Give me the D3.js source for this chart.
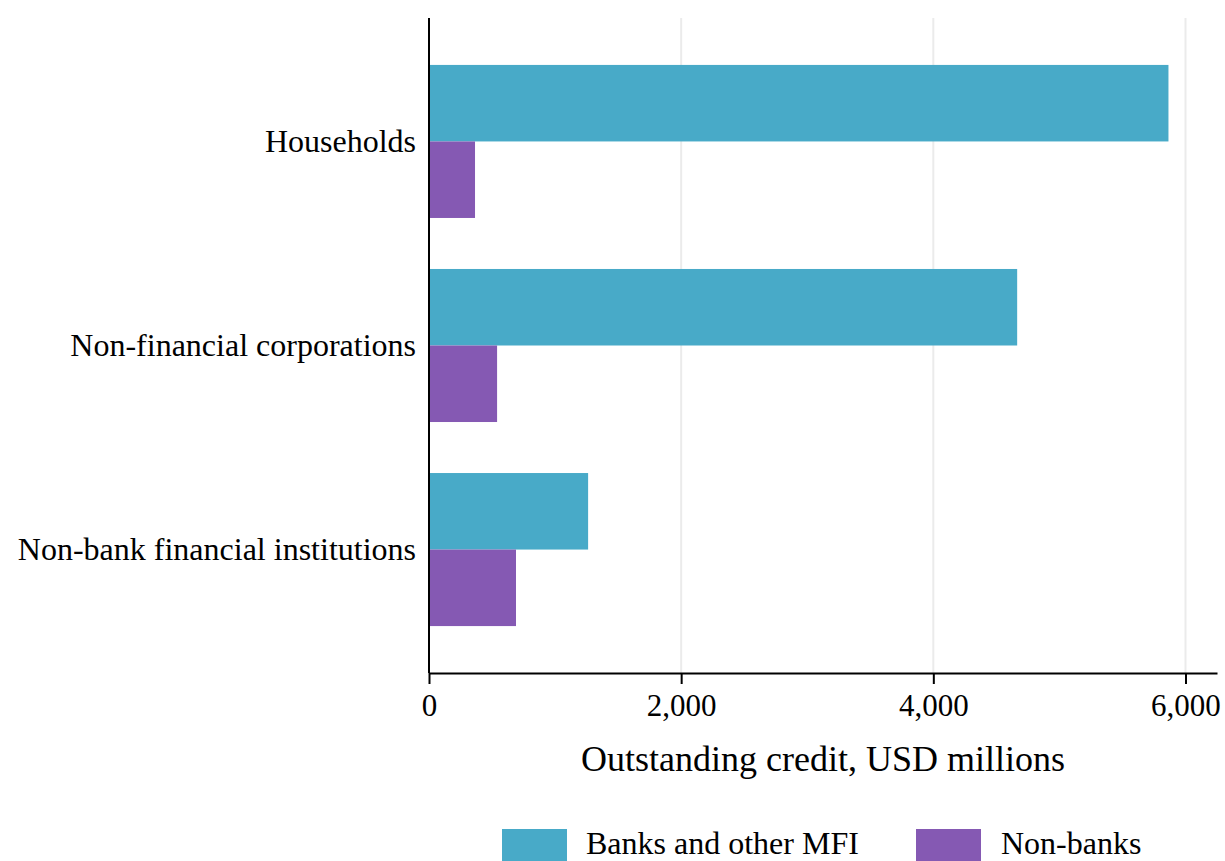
<!DOCTYPE html>
<html>
<head>
<meta charset="utf-8">
<script src="https://cdn.jsdelivr.net/npm/d3@7"></script>
<style>
  html, body { margin: 0; padding: 0; background: #fff; }
  svg { display: block; font-family: "Liberation Serif", "Times New Roman", serif; }
</style>
</head>
<body>
<svg id="chart" width="1225" height="861"></svg>
<script>
// Outstanding credit by borrowing sector, USD millions
const sectors = ["Households", "Non-financial corporations", "Non-bank financial institutions"];
const seriesNames = ["Banks and other MFI", "Non-banks"];
const banksValues = [5865, 4665, 1262];
const nonBanksValues = [365, 540, 690];
const xTicks = [0, 2000, 4000, 6000];
const colors = ["#48aac8", "#8559b3"];

const rows = sectors.map((s, i) => ({ sector: s, values: [banksValues[i], nonBanksValues[i]] }));

const svg = d3.select("#chart");
const margin = { left: 429, right: 8, top: 18, bottom: 188 };
const W = 1225, H = 861;
const x0 = margin.left, x1 = W - margin.right;
const yTop = margin.top, yBottom = H - margin.bottom;

const x = d3.scaleLinear().domain([0, 6250]).range([x0, x1]);
const y = d3.scaleBand().domain(sectors).range([yTop, yBottom]).paddingInner(0.25).paddingOuter(0.23);
const ySub = d3.scaleBand().domain([0, 1]).range([0, y.bandwidth()]);

// vertical gridlines
svg.append("g").selectAll("line")
  .data(xTicks.filter(d => d > 0))
  .join("line")
  .attr("x1", d => x(d)).attr("x2", d => x(d))
  .attr("y1", yTop).attr("y2", yBottom)
  .attr("stroke", "#ebebeb").attr("stroke-width", 2);

// bars
const groups = svg.append("g").selectAll("g")
  .data(rows).join("g")
  .attr("transform", d => `translate(0,${y(d.sector)})`);
groups.selectAll("rect")
  .data(d => d.values.map((v, k) => ({ v, k })))
  .join("rect")
  .attr("x", x(0))
  .attr("y", d => ySub(d.k))
  .attr("width", d => x(d.v) - x(0))
  .attr("height", ySub.bandwidth())
  .attr("fill", d => colors[d.k]);

// x axis
const xAxis = svg.append("g")
  .attr("transform", `translate(0,${yBottom})`)
  .call(d3.axisBottom(x).tickValues(xTicks).tickFormat(d3.format(",")).tickSize(11).tickPadding(10).tickSizeOuter(0));
xAxis.select(".domain").attr("stroke", "#000").attr("stroke-width", 2);
xAxis.selectAll(".tick line").attr("stroke", "#000").attr("stroke-width", 2);
xAxis.selectAll(".tick text").attr("font-size", 31).attr("fill", "#000").attr("font-family", "Liberation Serif, serif");

// y axis
const yAxis = svg.append("g")
  .attr("transform", `translate(${x0},0)`)
  .call(d3.axisLeft(y).tickSize(0).tickPadding(13).tickSizeOuter(0));
yAxis.select(".domain").attr("stroke", "#000").attr("stroke-width", 2)
  .attr("d", `M0,${yTop}V${yBottom}`);
yAxis.selectAll(".tick text").attr("font-size", 32).attr("fill", "#000").attr("font-family", "Liberation Serif, serif");

// axis title
svg.append("text")
  .attr("x", (x0 + x1) / 2).attr("y", 771)
  .attr("text-anchor", "middle")
  .attr("font-size", 36)
  .text("Outstanding credit, USD millions");

// legend
const legendItems = [
  { name: seriesNames[0], color: colors[0], sx: 502, tx: 586 },
  { name: seriesNames[1], color: colors[1], sx: 916, tx: 1001 }
];
const lg = svg.append("g").selectAll("g").data(legendItems).join("g");
lg.append("rect")
  .attr("x", d => d.sx).attr("y", 829)
  .attr("width", 65).attr("height", 40)
  .attr("fill", d => d.color);
lg.append("text")
  .attr("x", d => d.tx).attr("y", 854)
  .attr("font-size", 32)
  .text(d => d.name);
</script>
</body>
</html>
